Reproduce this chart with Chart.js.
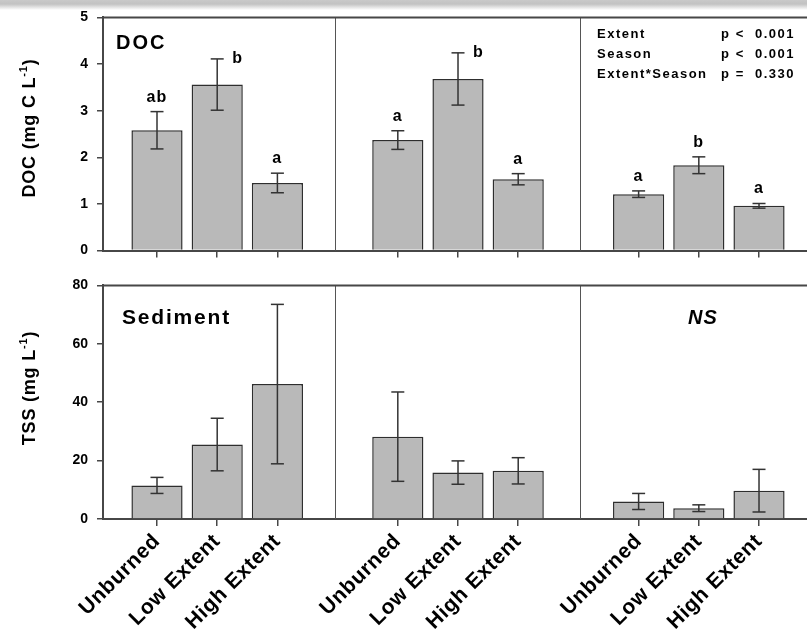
<!DOCTYPE html>
<html>
<head>
<meta charset="utf-8">
<script src="https://cdn.jsdelivr.net/npm/chart.js@4.4.1/dist/chart.umd.min.js"></script>
<style>
  html, body { margin: 0; padding: 0; background: #fff; }
  #wrap { position: relative; width: 807px; height: 631px; overflow: hidden; }
  #shade { position: absolute; left: 0; top: 0; width: 807px; height: 10px;
           background: linear-gradient(#c9c9c9, #c2c2c2 40%, #fff); }
  canvas { position: absolute; left: 0; }
</style>
</head>
<body>
<div id="wrap">
  <div id="shade"></div>
  <canvas id="docChart" width="807" height="268" style="top:0"></canvas>
  <canvas id="tssChart" width="807" height="363" style="top:268px"></canvas>
</div>
<script>
// data, 3 treatments x 3 panels
const treatments = ['Unburned', 'Low Extent', 'High Extent'];
const docMean = [2.58, 3.56, 1.45, 2.37, 3.68, 1.53, 1.21, 1.83, 0.96];
const docErr = [0.40, 0.55, 0.21, 0.20, 0.56, 0.12, 0.07, 0.18, 0.05];
const docLetters = ['ab', 'b', 'a', 'a', 'b', 'a', 'a', 'b', 'a'];
const tssMean = [11.5, 25.5, 46.2, 28.2, 15.9, 16.5, 6.0, 3.7, 9.7];
const tssErr = [2.75, 9.0, 27.3, 15.3, 4.0, 4.5, 2.75, 1.15, 7.3];
const docTicks = [0, 1, 2, 3, 4, 5];
const tssTicks = [0, 20, 40, 60, 80];
const statTerms = ['Extent', 'Season', 'Extent*Season'];
const statP = ['p <  0.001', 'p <  0.001', 'p =  0.330'];

// layout
const FONT = "'Liberation Sans', Arial, Helvetica, sans-serif";
const AXIS = '#474747';
const slotX = i => Math.floor(i / 3) * 4 + (i % 3); // one empty slot between panels
const dividers = [2.95, 7.02];
const X_MIN = -0.897, X_MAX = 10.797;

function line(ctx, x1, y1, x2, y2) {
  ctx.beginPath(); ctx.moveTo(x1, y1); ctx.lineTo(x2, y2); ctx.stroke();
}

function makeDecor(cfg) {
  return {
    id: 'panelDecor',
    beforeDraw(chart) { chart.ctx.letterSpacing = '0px'; },
    afterDatasetsDraw(chart) {
      const { ctx, chartArea: a, scales: { x, y } } = chart;
      ctx.save();
      // panel dividers + top frame
      ctx.strokeStyle = '#555'; ctx.lineWidth = 1;
      dividers.forEach(d => {
        const px = Math.round(x.getPixelForValue(d)) + 0.5;
        line(ctx, px, a.top, px, a.bottom);
      });
      ctx.strokeStyle = AXIS; ctx.lineWidth = 2;
      line(ctx, a.left, a.top, a.right, a.top);

      // error bars
      const meta = chart.getDatasetMeta(0);
      ctx.strokeStyle = '#333'; ctx.lineWidth = 1.5;
      meta.data.forEach((bar, i) => {
        const hi = y.getPixelForValue(cfg.mean[i] + cfg.err[i]);
        const lo = y.getPixelForValue(cfg.mean[i] - cfg.err[i]);
        line(ctx, bar.x, hi, bar.x, lo);
        line(ctx, bar.x - 6.5, hi, bar.x + 6.5, hi);
        line(ctx, bar.x - 6.5, lo, bar.x + 6.5, lo);
        if (cfg.letters) {
          ctx.fillStyle = '#000';
          ctx.font = 'bold 16px ' + FONT;
          ctx.letterSpacing = '1.2px';
          if (hi - a.top < 60) {
            ctx.textAlign = 'left'; ctx.textBaseline = 'middle';
            ctx.fillText(cfg.letters[i], bar.x + 15, hi);
          } else {
            ctx.textAlign = 'center'; ctx.textBaseline = 'alphabetic';
            ctx.fillText(cfg.letters[i], bar.x, hi - 10);
          }
        }
      });
      ctx.restore();
      ctx.letterSpacing = '0.7px'; // for the rotated category labels drawn next
    },
    afterDraw(chart) {
      const { ctx } = chart;
      ctx.save();
      ctx.fillStyle = '#000';
      cfg.texts.forEach(t => {
        ctx.font = t.font + ' ' + FONT;
        ctx.letterSpacing = t.spacing;
        ctx.textAlign = t.align; ctx.textBaseline = 'alphabetic';
        ctx.fillText(t.text, t.x, t.y);
      });
      // y title with superscript
      ctx.translate(35, cfg.titleY);
      ctx.rotate(-Math.PI / 2);
      ctx.letterSpacing = '0.8px';
      const big = 'bold 18px ' + FONT, small = 'bold 11px ' + FONT;
      ctx.font = big; const w1 = ctx.measureText(cfg.title[0]).width;
      const w3 = ctx.measureText(cfg.title[2]).width;
      ctx.font = small; const w2 = ctx.measureText(cfg.title[1]).width;
      const x0 = -(w1 + w2 + w3) / 2;
      ctx.textAlign = 'left';
      ctx.font = big; ctx.fillText(cfg.title[0], x0, 0);
      ctx.font = small; ctx.fillText(cfg.title[1], x0 + w1, -8);
      ctx.font = big; ctx.fillText(cfg.title[2], x0 + w1 + w2, 0);
      ctx.restore();
      ctx.letterSpacing = '0px';
    }
  };
}

function makeChart(id, cfg) {
  return new Chart(document.getElementById(id), {
    type: 'bar',
    data: {
      datasets: [{
        data: cfg.mean.map((v, i) => ({ x: slotX(i), y: v })),
        backgroundColor: '#b9b9b9',
        borderColor: '#2e2e2e',
        borderWidth: 1.5,
        categoryPercentage: 1,
        barPercentage: 0.85
      }]
    },
    options: {
      responsive: false,
      animation: false,
      layout: { padding: { left: 0, right: 0, top: cfg.top, bottom: 0 } },
      plugins: { legend: { display: false }, tooltip: { enabled: false } },
      scales: {
        x: {
          type: 'linear', min: X_MIN, max: X_MAX, offset: false,
          afterBuildTicks: s => { s.ticks = cfg.mean.map((v, i) => ({ value: slotX(i) })); },
          afterFit: s => { s.height = cfg.xHeight; },
          grid: { offset: false, drawOnChartArea: false, tickLength: 7, color: AXIS, lineWidth: 1.5 },
          border: { color: AXIS, width: 2 },
          ticks: {
            z: 1, display: cfg.showLabels, autoSkip: false, minRotation: 45, maxRotation: 45,
            padding: 3, color: '#000',
            font: { family: FONT, size: 21, weight: 'bold' },
            callback: (v, i) => treatments[i % 3]
          }
        },
        y: {
          min: cfg.ticks[0], max: cfg.ticks[cfg.ticks.length - 1],
          afterBuildTicks: s => { s.ticks = cfg.ticks.map(v => ({ value: v })); },
          afterFit: s => { s.width = 103; },
          grid: { drawOnChartArea: false, tickLength: 6, color: AXIS, lineWidth: 1.5 },
          border: { color: AXIS, width: 2 },
          ticks: { padding: 9, color: '#000', font: { family: FONT, size: 14, weight: 'bold' } }
        }
      }
    },
    plugins: [makeDecor(cfg)]
  });
}

const docTexts = [{ text: 'DOC', font: 'bold 20px', spacing: '2px', align: 'left', x: 116, y: 49 }];
statTerms.forEach((t, i) => {
  docTexts.push({ text: t, font: 'bold 13px', spacing: '1.5px', align: 'left', x: 597, y: 38 + i * 20 });
  docTexts.push({ text: statP[i], font: 'bold 13px', spacing: '1.5px', align: 'right', x: 795, y: 38 + i * 20 });
});

makeChart('docChart', {
  mean: docMean, err: docErr, letters: docLetters, ticks: docTicks,
  top: 15, xHeight: 17, showLabels: false, titleY: 128,
  title: ['DOC (mg C L', '-1', ')'],
  texts: docTexts
});

makeChart('tssChart', {
  mean: tssMean, err: tssErr, letters: null, ticks: tssTicks,
  top: 15, xHeight: 112, showLabels: true, titleY: 120,
  title: ['TSS (mg L', '-1', ')'],
  texts: [
    { text: 'Sediment', font: 'bold 21px', spacing: '1.8px', align: 'left', x: 122, y: 56 },
    { text: 'NS', font: 'italic bold 20px', spacing: '1px', align: 'center', x: 703, y: 56 }
  ]
});
</script>
</body>
</html>
